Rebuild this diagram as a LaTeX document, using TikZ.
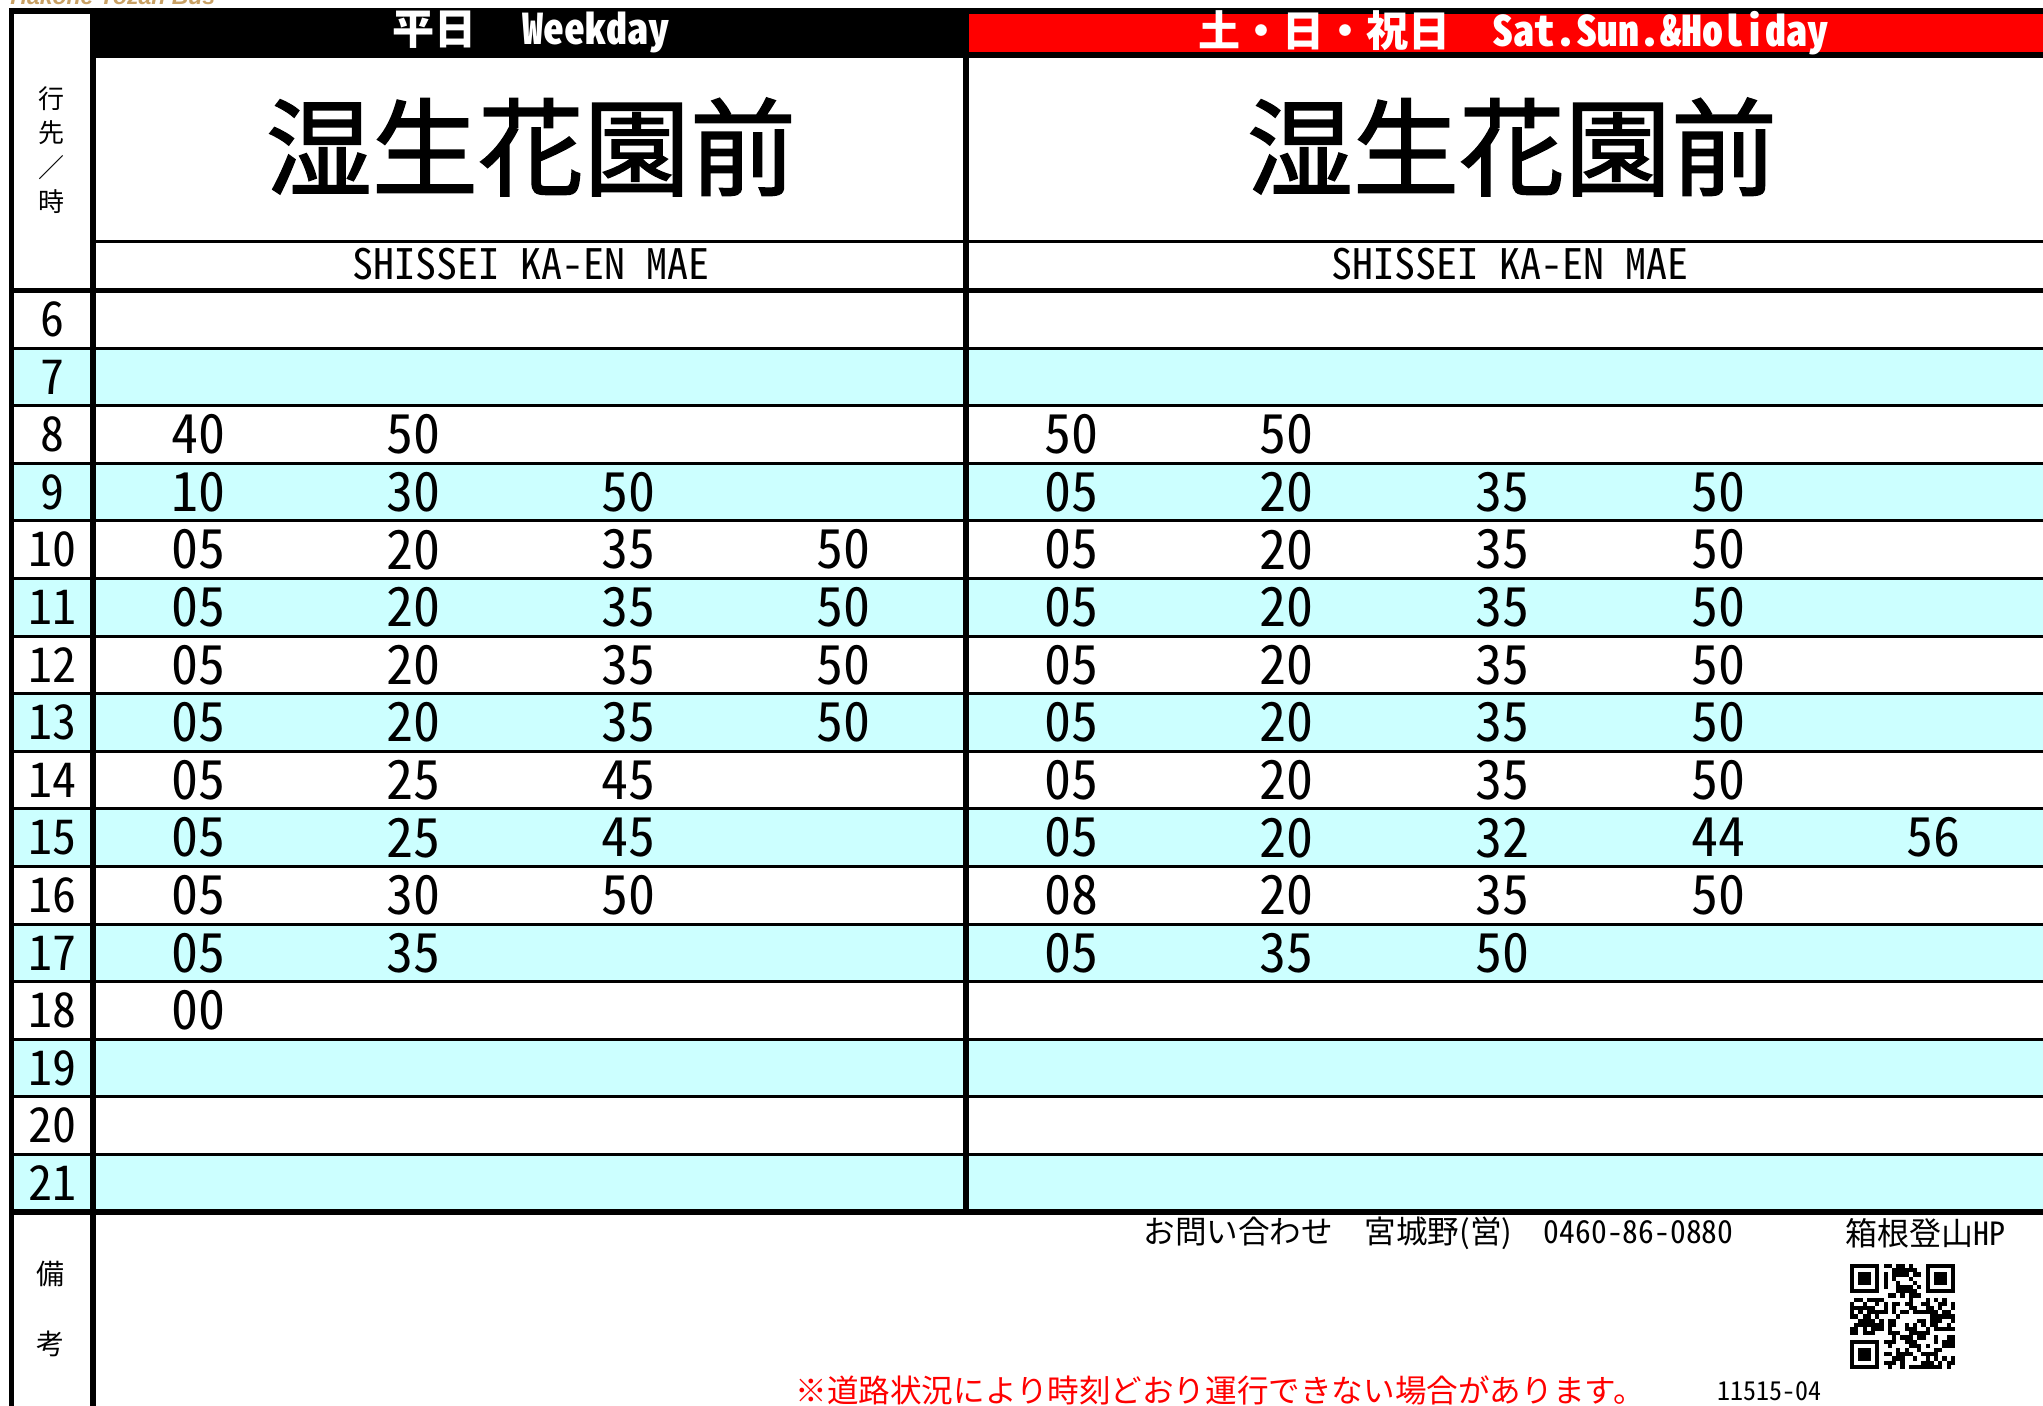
\documentclass[tikz,border=0pt]{standalone}
\usepackage{fontspec}
\setmainfont{Noto Sans CJK JP}
\newfontfamily\jp{Noto Sans CJK JP}
\newfontfamily\jpmed[FakeBold=1.6]{Noto Sans CJK JP}
\newfontfamily\hw[RawFeature=+hwid]{Noto Sans CJK JP}
\newfontfamily\logofont{Liberation Sans}
\definecolor{rowcyan}{HTML}{CCFFFF}
\definecolor{hdrred}{HTML}{FF0000}
\definecolor{logotan}{RGB}{200,160,100}
\begin{document}
\begin{tikzpicture}[x=0.5pt,y=-0.5pt,
  hour/.style={font=\hw\fontsize{24}{24}\selectfont,inner sep=0pt},
  minute/.style={font=\hw\fontsize{27}{27}\selectfont,inner sep=0pt},
  rowrule/.style={line width=1.5pt},
  heavyrule/.style={line width=3pt},
  station/.style={font=\jpmed\fontsize{53}{53}\selectfont,inner sep=0pt},
  subtitle/.style={font=\hw\fontsize{21}{21}\selectfont,inner sep=0pt},
  hdr/.style={text=white,inner sep=0pt,font=\bfseries\fontsize{21}{21}\selectfont},
  sidelabel/.style={font=\jp\fontsize{14}{14}\selectfont,inner sep=0pt},
  foot/.style={font=\jp\fontsize{15.8}{15.8}\selectfont,inner sep=0pt,anchor=west},
]
\useasboundingbox (0,0) rectangle (2043,1406);
\clip (0,0) rectangle (2043,1406);
\fill[white] (0,0) rectangle (2043,1406);

% logo fragment (cut at the top edge, as in the reference)
\node[anchor=base west,inner sep=0pt,text=logotan,font=\logofont\bfseries\itshape\fontsize{11.5}{11.5}\selectfont] (logo) at (10,5) {Hakone Tozan Bus};

% cyan rows
\foreach \h in {7,9,...,21}{
  \fill[rowcyan] (11,{290.5+57.6*(\h-6)}) rectangle (2043,{290.5+57.6*(\h-5)});
}

% header fills
\fill[black] (9,8) rectangle (2043,14);
\fill[black] (90,8) rectangle (969,58);
\fill[hdrred] (969,14) rectangle (2043,52);
\fill[black] (969,52) rectangle (2043,58);

% header texts
\node[hdr] (wkhdr) at (531,32) {{\jp 平日}\hspace{1.1em}{\hw Weekday}};
\node[hdr] (hlhdr) at (1513,33) {{\jp 土・日・祝日}\hspace{1em}{\hw Sat.Sun.\&Holiday}};

\node[station] (wkname) at (531,147) {湿生花園前};
\node[station] (hlname) at (1512,147) {湿生花園前};
\node[subtitle] (wksub) at (531,264) {SHISSEI KA-EN MAE};
\node[subtitle] (hlsub) at (1510,264) {SHISSEI KA-EN MAE};

\node[align=center,inner sep=0pt,font=\jp\fontsize{13}{17.3}\selectfont] (dest) at (52,150) {行\\先\\／\\時};

% hours
\foreach \h in {6,...,21}{
  \node[hour] (h\h) at (52,{290.5+57.6*(\h-5.5)}) {\h};
}

% weekday minutes
\foreach \h/\mins in {8/{40,50},9/{10,30,50},10/{05,20,35,50},11/{05,20,35,50},12/{05,20,35,50},13/{05,20,35,50},14/{05,25,45},15/{05,25,45},16/{05,30,50},17/{05,35},18/{00}}{
  \foreach \m [count=\k] in \mins {
    \node[minute] (w\h-\k) at ({198+215.3*(\k-1)},{290.5+57.6*(\h-5.5)}) {\m};
  }
}
% holiday minutes
\foreach \h/\mins in {8/{50,50},9/{05,20,35,50},10/{05,20,35,50},11/{05,20,35,50},12/{05,20,35,50},13/{05,20,35,50},14/{05,20,35,50},15/{05,20,32,44,56},16/{08,20,35,50},17/{05,35,50}}{
  \foreach \m [count=\k] in \mins {
    \node[minute] (s\h-\k) at ({1071+215.7*(\k-1)},{290.5+57.6*(\h-5.5)}) {\m};
  }
}

% rules
\foreach \i in {1,...,15}{
  \draw[rowrule] (11,{290.5+57.6*\i}) -- (2043,{290.5+57.6*\i});
}
\draw[line width=2.5pt] (11.5,8) -- (11.5,1406);
\draw[heavyrule] (93,8) -- (93,1406);
\draw[heavyrule] (966,58) -- (966,1212);
\draw[line width=1.6pt] (93,241.5) -- (2043,241.5);
\draw[line width=2.75pt] (9,290.5) -- (2043,290.5);
\draw[heavyrule] (9,1212) -- (2043,1212);

% remarks
\node[sidelabel] (bi) at (50,1274) {備};
\node[sidelabel] (kou) at (50,1344) {考};

\node[foot] (contact) at (1143,1233) {お問い合わせ　宮城野(営)　{\hw 0460-86-0880}};
\node[foot,font=\jp\fontsize{16}{16}\selectfont] (hp) at (1845,1233) {箱根登山{\hw HP}};
\node[foot,text=hdrred,font=\jp\fontsize{15.8}{15.8}\selectfont] (notice) at (795,1390) {※道路状況により時刻どおり運行できない場合があります。};
\node[foot,font=\hw\fontsize{13}{13}\selectfont] (code) at (1717,1391) {11515-04};

% QR code
\coordinate (qr) at (1850,1264);
\pgfmathsetseed{11515}
\foreach \i in {0,...,24}{
  \foreach \j in {0,...,24}{
    \pgfmathtruncatemacro\fa{(\i<8)*(\j<8)+(\i>16)*(\j<8)+(\i<8)*(\j>16)}
    \ifnum\fa=0
      \pgfmathtruncatemacro\bt{rnd<0.5}
      \ifnum\bt=1
        \fill ({1850+\i*4.2},{1264+\j*4.2}) rectangle ++(4.2,4.2);
      \fi
    \fi
  }
}
\foreach \ox/\oy in {0/0,18/0,0/18}{
  \fill ({1850+\ox*4.2},{1264+\oy*4.2}) rectangle ++(29.4,29.4);
  \fill[white] ({1850+(\ox+1)*4.2},{1264+(\oy+1)*4.2}) rectangle ++(21,21);
  \fill ({1850+(\ox+2)*4.2},{1264+(\oy+2)*4.2}) rectangle ++(12.6,12.6);
}
\end{tikzpicture}
\end{document}
